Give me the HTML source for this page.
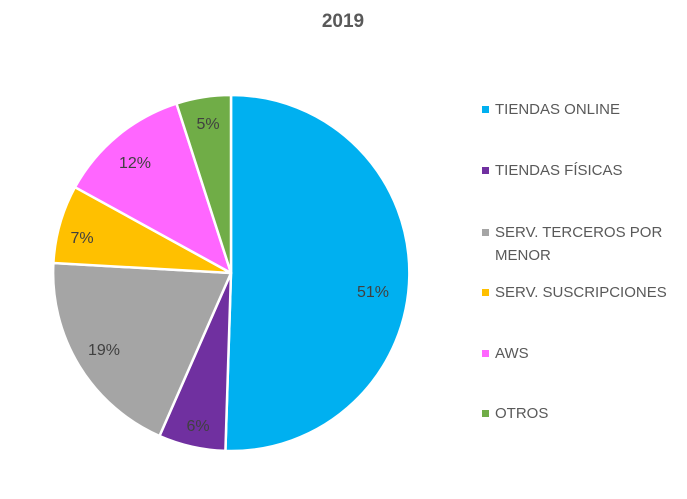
<!DOCTYPE html>
<html><head><meta charset="utf-8"><style>
body{margin:0;background:#fff;}
svg text{font-family:"Liberation Sans",sans-serif;}
</style></head><body>
<svg width="687" height="494" xmlns="http://www.w3.org/2000/svg">
<rect width="687" height="494" fill="#fff"/>
<text x="343" y="27" text-anchor="middle" font-size="19" font-weight="bold" fill="#595959">2019</text>
<g stroke="#fff" stroke-width="2.5" stroke-linejoin="round">
<path d="M231,273 L231,95 A178,178 0 1,1 225.4,450.9 Z" fill="#00B0F0"/>
<path d="M231,273 L225.4,450.9 A178,178 0 0,1 159.5,436.0 Z" fill="#7030A0"/>
<path d="M231,273 L159.5,436.0 A178,178 0 0,1 53.4,263.0 Z" fill="#A5A5A5"/>
<path d="M231,273 L53.4,263.0 A178,178 0 0,1 75.0,187.2 Z" fill="#FFC000"/>
<path d="M231,273 L75.0,187.2 A178,178 0 0,1 176.5,103.5 Z" fill="#FF66FF"/>
<path d="M231,273 L176.5,103.5 A178,178 0 0,1 231,95 Z" fill="#70AD47"/>
</g>
<g font-size="16" fill="#404040" text-anchor="middle">
<text x="373" y="297">51%</text>
<text x="198" y="431">6%</text>
<text x="104" y="355">19%</text>
<text x="82" y="243">7%</text>
<text x="135" y="168">12%</text>
<text x="208" y="129">5%</text>
</g>
<g font-size="15" fill="#595959">
<rect x="482" y="106" width="7" height="7" fill="#00B0F0"/><text x="495" y="114">TIENDAS ONLINE</text>
<rect x="482" y="167" width="7" height="7" fill="#7030A0"/><text x="495" y="175">TIENDAS FÍSICAS</text>
<rect x="482" y="229" width="7" height="7" fill="#A5A5A5"/><text x="495" y="237">SERV. TERCEROS POR</text><text x="495" y="260">MENOR</text>
<rect x="482" y="289" width="7" height="7" fill="#FFC000"/><text x="495" y="297">SERV. SUSCRIPCIONES</text>
<rect x="482" y="350" width="7" height="7" fill="#FF66FF"/><text x="495" y="358">AWS</text>
<rect x="482" y="410" width="7" height="7" fill="#70AD47"/><text x="495" y="418">OTROS</text>
</g>
</svg>
</body></html>
